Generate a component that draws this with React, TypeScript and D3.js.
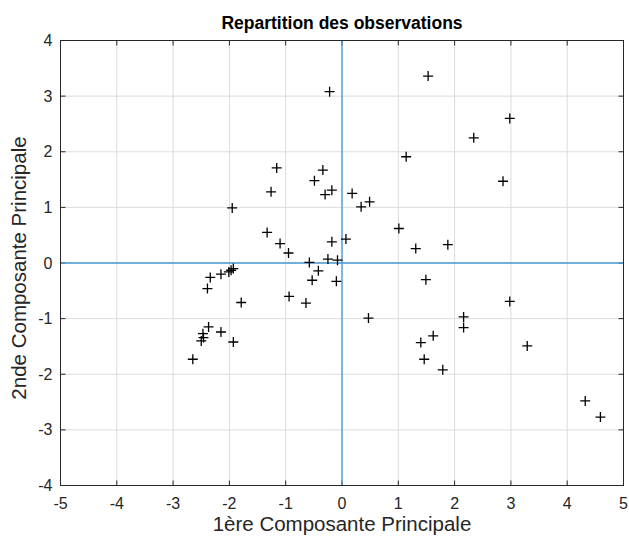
import React from "react";
import * as d3 from "d3";

const pc1: number[] = [
  -1.16, -0.34, -0.49, -1.26, -0.18, -0.30, 0.18, 0.34, 0.49, -1.95,
  -1.33, -1.10, -0.95, -0.18, 0.07, -0.58, -0.25, -0.08, -0.42, -0.53,
  -0.10, -0.94, -0.64, -1.79, 0.47,
  -2.34, -2.15, -2.01, -1.97, -1.93, -2.39, -2.37, -2.47, -2.15, -2.46, -2.50, -1.93, -2.65,
  1.53, -0.22, 2.98, 2.34, 1.14, 2.86, 1.01, 1.31, 1.88,
  1.49, 2.98, 2.16, 2.16, 1.62, 1.40, 3.29, 1.46, 1.79, 4.32, 4.59,
];
const pc2: number[] = [
  1.71, 1.67, 1.48, 1.28, 1.31, 1.23, 1.25, 1.01, 1.10, 0.99,
  0.55, 0.35, 0.18, 0.38, 0.43, 0.01, 0.07, 0.05, -0.14, -0.31,
  -0.33, -0.60, -0.72, -0.71, -0.99,
  -0.26, -0.20, -0.16, -0.13, -0.10, -0.46, -1.15, -1.27, -1.24, -1.34, -1.40, -1.42, -1.73,
  3.36, 3.08, 2.60, 2.25, 1.91, 1.47, 0.62, 0.26, 0.33,
  -0.30, -0.69, -0.97, -1.16, -1.31, -1.43, -1.49, -1.73, -1.92, -2.48, -2.77,
];
const xTicks: number[] = [-5, -4, -3, -2, -1, 0, 1, 2, 3, 4, 5];
const yTicks: number[] = [-4, -3, -2, -1, 0, 1, 2, 3, 4];
const title = "Repartition des observations";
const xLabel = "1ère Composante Principale";
const yLabel = "2nde Composante Principale";

export default function App() {
  const W = 629, H = 541;
  const left = 60.5, right = 623.5, top = 40.5, bottom = 485.5;
  const x = d3.scaleLinear().domain([-5, 5]).range([left, right]);
  const y = d3.scaleLinear().domain([-4, 4]).range([bottom, top]);
  const font = "Arial, 'Liberation Sans', Helvetica, sans-serif";
  const tickLen = 5;
  const ms = 5;
  return (
    <svg width={W} height={H} style={{ position: "absolute", left: 0, top: 0, background: "#fff" }}>
      <rect x={0} y={0} width={W} height={H} fill="#fff" />
      {xTicks.map((t) => (
        <line key={"gx" + t} x1={x(t)} x2={x(t)} y1={top} y2={bottom} stroke="#dcdcdc" strokeWidth={1} />
      ))}
      {yTicks.map((t) => (
        <line key={"gy" + t} y1={y(t)} y2={y(t)} x1={left} x2={right} stroke="#dcdcdc" strokeWidth={1} />
      ))}
      {xTicks.map((t) => (
        <g key={"tx" + t}>
          <line x1={x(t)} x2={x(t)} y1={bottom} y2={bottom - tickLen} stroke="#262626" />
          <line x1={x(t)} x2={x(t)} y1={top} y2={top + tickLen} stroke="#262626" />
          <text x={x(t)} y={bottom + 23.5} textAnchor="middle" fontFamily={font} fontSize={16} fill="#262626">
            {t}
          </text>
        </g>
      ))}
      {yTicks.map((t) => (
        <g key={"ty" + t}>
          <line y1={y(t)} y2={y(t)} x1={left} x2={left + tickLen} stroke="#262626" />
          <line y1={y(t)} y2={y(t)} x1={right} x2={right - tickLen} stroke="#262626" />
          <text x={left - 8} y={y(t) + 5.5} textAnchor="end" fontFamily={font} fontSize={16} fill="#262626">
            {t}
          </text>
        </g>
      ))}
      <line x1={x(0)} x2={x(0)} y1={top} y2={bottom} stroke="#4a98d4" strokeWidth={1.3} />
      <line y1={y(0)} y2={y(0)} x1={left} x2={right} stroke="#4a98d4" strokeWidth={1.3} />
      <rect x={left} y={top} width={right - left} height={bottom - top} fill="none" stroke="#262626" strokeWidth={1} />
      {pc1.map((v, i) => {
        const cx = x(v), cy = y(pc2[i]);
        return (
          <path
            key={"p" + i}
            d={`M${cx - ms},${cy}H${cx + ms}M${cx},${cy - ms}V${cy + ms}`}
            stroke="#000"
            strokeWidth={1.3}
            fill="none"
          />
        );
      })}
      <text x={(left + right) / 2} y={29} textAnchor="middle" fontFamily={font} fontSize={17.5} fontWeight="bold" fill="#000">
        {title}
      </text>
      <text x={(left + right) / 2} y={531} textAnchor="middle" fontFamily={font} fontSize={20.5} fill="#262626">
        {xLabel}
      </text>
      <text
        transform={`translate(26, ${268}) rotate(-90)`}
        textAnchor="middle"
        fontFamily={font}
        fontSize={20.5}
        fill="#262626"
      >
        {yLabel}
      </text>
    </svg>
  );
}
